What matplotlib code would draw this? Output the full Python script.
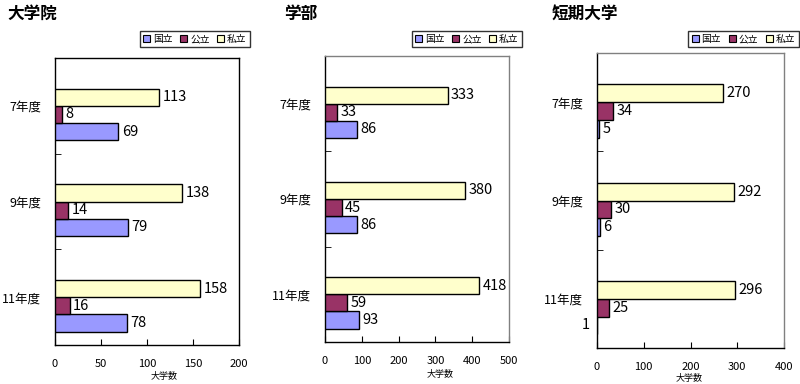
import matplotlib
matplotlib.use("Agg")
import matplotlib.pyplot as plt
from matplotlib.patches import Patch

plt.rcParams['font.family'] = ['Noto Sans CJK JP', 'DejaVu Sans']

years = ["7年度", "9年度", "11年度"]
series_names = ["国立", "公立", "私立"]
colors = ["#9999FF", "#993366", "#FFFFCC"]

titles = ["大学院", "学部", "短期大学"]
kokuritsu = [[69, 79, 78], [86, 86, 93], [5, 6, 1]]
kouritsu = [[8, 14, 16], [33, 45, 59], [34, 30, 25]]
shiritsu = [[113, 138, 158], [333, 380, 418], [270, 292, 296]]
xmax = [200, 500, 400]
xstep = [50, 100, 100]

W, H = 800, 384
fig = plt.figure(figsize=(8, 3.84), dpi=100)

# axes pixel boxes: left, right, top, bottom
boxes = [(55, 239, 58, 345), (325, 509, 56, 342), (597, 784, 53, 348)]
legend_boxes = [(140, 250), (414, 520), (692, 795)]
title_x = [7, 284, 552]
xlabel_x = [164, 440, 689]
xlabel_y = [376, 375, 379]

offsets = [0.27, 0.09, -0.09]  # 国立, 公立, 私立 (inverted y axis)
bh = 0.18

for i in range(3):
    l, r, t, b = boxes[i]
    ax = fig.add_axes([l / W, 1 - b / H, (r - l) / W, (b - t) / H])
    data = [kokuritsu[i], kouritsu[i], shiritsu[i]]
    for s in range(3):
        ys = [c + offsets[s] for c in range(3)]
        ax.barh(ys, data[s], height=bh, color=colors[s], edgecolor='black',
                linewidth=1.0, zorder=3)
        for c in range(3):
            v = data[s][c]
            if i == 2 and s == 0 and c == 2:
                ax.annotate(str(v), xy=(0, ys[c]), xytext=(-5, 0),
                            textcoords='offset points', ha='right', va='center',
                            fontsize=10.5, annotation_clip=False)
            else:
                ax.annotate(str(v), xy=(v, ys[c]), xytext=(2.5, 0),
                            textcoords='offset points', ha='left', va='center',
                            fontsize=10.5)
    ax.set_ylim(2.5, -0.5)
    ax.set_xlim(0, xmax[i])
    ax.set_xticks(list(range(0, xmax[i] + 1, xstep[i])))
    ax.tick_params(axis='x', direction='in', length=4, pad=10, labelsize=8)
    ax.set_yticks([0, 1, 2])
    ax.set_yticklabels(years, fontsize=9)
    ax.tick_params(axis='y', length=0, pad=10)
    ax.set_yticks([0.5, 1.5], minor=True)
    ax.tick_params(axis='y', which='minor', direction='in', length=4)
    for sp in ax.spines.values():
        sp.set_linewidth(1.0)
        sp.set_color('black')
    if i > 0:
        ax.spines['top'].set_color('#808080')
        ax.spines['right'].set_color('#808080')

    fig.text(title_x[i] / W, 1 - 14 / H, titles[i], fontsize=12, fontweight='bold',
             ha='left', va='center')
    fig.text(xlabel_x[i] / W, 1 - xlabel_y[i] / H, "大学数", fontsize=6.5,
             ha='center', va='center')

    handles = [Patch(facecolor=colors[s], edgecolor='black', linewidth=0.8,
                     label=series_names[s]) for s in range(3)]
    lx0, lx1 = legend_boxes[i]
    leg = fig.legend(handles=handles, ncol=3, fontsize=7,
                     loc='center', bbox_to_anchor=((lx0 + lx1) / 2 / W, 1 - 39 / H),
                     handlelength=0.7, handleheight=0.7, handletextpad=0.3,
                     columnspacing=0.8, borderpad=0.35, frameon=True, fancybox=False)
    leg.get_frame().set_edgecolor('black')
    leg.get_frame().set_linewidth(1.0)

fig.savefig("out.png", dpi=100)
